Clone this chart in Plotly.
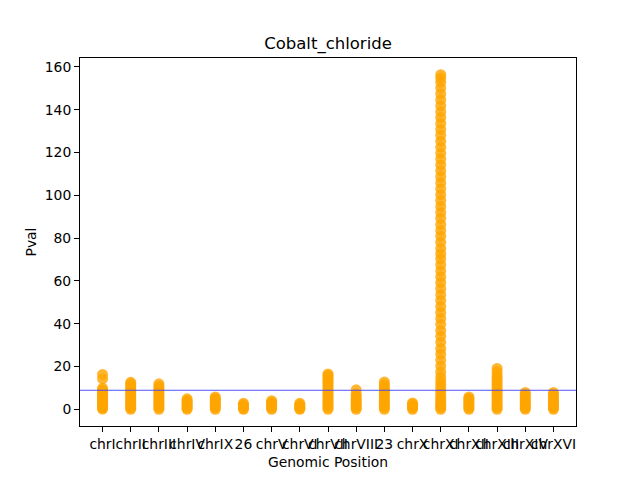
import plotly.graph_objects as go

# chromosome labels in plotting order
chroms = ["chrI", "chrII", "chrIII", "chrIV", "chrIX", "26", "chrV", "chrVI",
          "chrVII", "chrVIII", "23", "chrX", "chrXI", "chrXII", "chrXIII",
          "chrXIV", "chrXVI"]

# -log10 p values per chromosome
pvals = {
    "chrI": [0.1, 0.6, 1.2, 1.9, 2.5, 3.1, 3.8, 4.4, 5.2, 6.0, 6.8, 7.5, 8.3, 9.1, 9.8, 14.2, 16.3],
    "chrII": [0.0, 0.7, 1.3, 2.1, 2.8, 3.5, 4.3, 5.0, 5.9, 6.7, 7.6, 8.4, 9.3, 10.2, 11.1, 11.9, 12.6],
    "chrIII": [0.0, 0.8, 1.5, 2.3, 3.0, 3.8, 4.7, 5.5, 6.4, 7.2, 8.1, 9.0, 9.9, 10.8, 11.9],
    "chrIV": [0.0, 0.6, 1.2, 1.9, 2.6, 3.3, 4.1, 4.9],
    "chrIX": [0.0, 0.7, 1.4, 2.1, 2.9, 3.6, 4.4, 5.1, 5.8],
    "26": [0.0, 0.5, 1.1, 1.6, 2.2, 2.8],
    "chrV": [0.0, 0.6, 1.3, 1.9, 2.6, 3.3, 4.0],
    "chrVI": [0.0, 0.5, 1.0, 1.6, 2.2, 2.8],
    "chrVII": [0.0, 0.8, 1.6, 2.4, 3.3, 4.1, 5.0, 5.9, 6.8, 7.7, 8.6, 9.5, 10.5, 11.4, 12.3, 13.2, 14.1, 15.0, 15.8, 16.5],
    "chrVIII": [0.0, 0.7, 1.4, 2.1, 2.9, 3.7, 4.5, 5.3, 6.2, 7.1, 9.1],
    "23": [0.0, 0.8, 1.6, 2.4, 3.2, 4.1, 5.0, 5.8, 6.7, 7.6, 8.6, 9.5, 10.5, 11.6, 12.8],
    "chrX": [0.0, 0.6, 1.2, 1.8, 2.4, 3.0],
    "chrXI": [0.0, 0.8, 1.7, 2.6, 3.5, 4.6, 5.8, 7.1, 8.5, 10.0, 11.6, 13.3, 15.1,
              17.5, 20.2, 23.0, 25.8, 28.4, 31.3, 34.1, 36.8, 39.7, 42.5, 45.3, 48.0,
              50.9, 53.6, 56.4, 59.2, 61.9, 64.7, 67.5, 70.3, 72.6, 75.2, 78.1, 80.9,
              83.6, 86.4, 89.3, 92.0, 94.8, 97.6, 100.3, 103.1, 105.9, 108.7, 111.4,
              114.2, 117.0, 119.7, 122.5, 125.3, 128.1, 130.8, 133.6, 136.4, 139.1,
              141.9, 144.7, 147.4, 150.2, 152.9, 154.8, 156.4],
    "chrXII": [0.0, 0.7, 1.4, 2.1, 2.9, 3.6, 4.4, 5.1, 5.8],
    "chrXIII": [0.0, 0.8, 1.6, 2.5, 3.4, 4.3, 5.2, 6.2, 7.2, 8.2, 9.2, 10.3, 11.4, 12.5, 13.6, 14.8, 16.0, 17.5, 19.1],
    "chrXIV": [0.0, 0.7, 1.3, 2.0, 2.8, 3.6, 4.4, 5.2, 6.1, 7.0, 7.9],
    "chrXVI": [0.0, 0.7, 1.3, 2.0, 2.8, 3.6, 4.4, 5.2, 6.1, 7.0, 7.9],
}

threshold = 8.9

xs = []
ys = []
for i, c in enumerate(chroms):
    for v in pvals[c]:
        xs.append(i)
        ys.append(v)

fig = go.Figure(go.Scatter(
    x=xs, y=ys, mode="markers",
    marker=dict(size=11, color="orange", opacity=0.8, line=dict(width=0)),
    showlegend=False,
))

fig.add_hline(y=threshold, line=dict(color="rgb(64,64,255)", width=0.9))

axis_common = dict(
    showline=True, mirror=True, linecolor="black", linewidth=1,
    ticks="outside", ticklen=5, tickcolor="black", showgrid=False,
    zeroline=False, tickfont=dict(size=13.9, color="black"),
)

fig.update_layout(
    width=640, height=480,
    margin=dict(l=80, r=64, t=58, b=54),
    paper_bgcolor="white", plot_bgcolor="white",
    font=dict(family="DejaVu Sans", color="black"),
    title=dict(text="Cobalt_chloride", x=0.5, xref="paper", xanchor="center",
               y=1 - 43 / 480, yref="container", yanchor="middle",
               font=dict(size=16.5, color="black")),
    xaxis=dict(axis_common, range=[-0.8, 16.8],
               tickvals=list(range(len(chroms))), ticktext=chroms, tickangle=0,
               title=dict(text="Genomic Position", font=dict(size=13.9), standoff=6)),
    yaxis=dict(axis_common, range=[-7.8, 164.2],
               tickvals=[0, 20, 40, 60, 80, 100, 120, 140, 160],
               title=dict(text="Pval", font=dict(size=13.9), standoff=4)),
)

fig.write_html("out.html", config={"displayModeBar": False},
               post_script="document.body.style.margin = '0';")
